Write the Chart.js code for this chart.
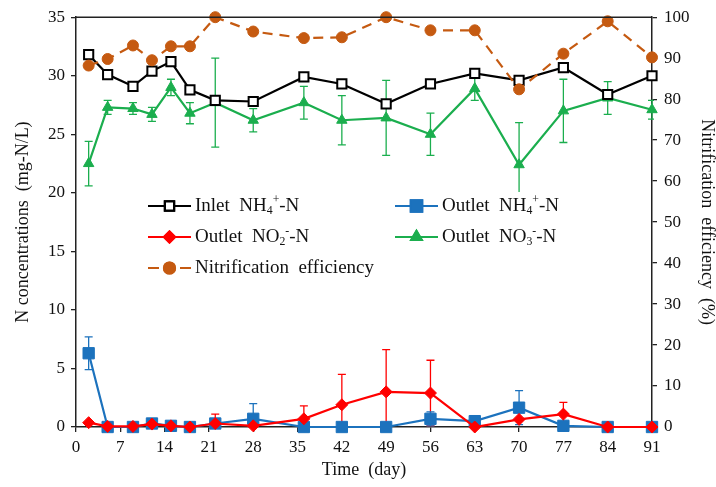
<!DOCTYPE html>
<html>
<head>
<meta charset="utf-8">
<script src="https://cdn.jsdelivr.net/npm/chart.js@4.4.0/dist/chart.umd.min.js"></script>
<style>
  html, body { margin: 0; padding: 0; background: #fff; }
  #wrap { width: 716px; height: 487px; }
</style>
</head>
<body>
<div id="wrap"><canvas id="chart" width="716" height="487"></canvas></div>
<script>
// ===== DATA =====
const days = [2, 5, 9, 12, 15, 18, 22, 28, 36, 42, 49, 56, 63, 70, 77, 84, 91];
const inletNH4 = [31.8, 30.1, 29.1, 30.4, 31.2, 28.8, 27.9, 27.8, 29.9, 29.3, 27.6, 29.3, 30.2, 29.6, 30.7, 28.4, 30.0];
const outletNH4 = [6.3, 0, 0, 0.3, 0.1, 0, 0.3, 0.7, 0, 0, 0, 0.7, 0.5, 1.65, 0.1, 0, 0];
const outletNH4Err = [1.4, 0, 0, 0, 0, 0, 0, 1.3, 0, 0, 0, 0.6, 0, 1.45, 0, 0, 0];
const outletNO2 = [0.37, 0.05, 0.05, 0.25, 0.1, 0, 0.3, 0.1, 0.7, 1.9, 3.0, 2.9, 0, 0.65, 1.1, 0, 0];
const outletNO2Err = [0, 0, 0, 0, 0, 0, 0.8, 0, 1.1, 2.6, 3.6, 2.8, 0, 0, 1.0, 0, 0];
const outletNO3 = [22.5, 27.3, 27.2, 26.7, 29.0, 26.8, 27.7, 26.2, 27.7, 26.2, 26.4, 25.0, 28.9, 22.4, 27.0, 28.1, 27.1];
const outletNO3Err = [1.9, 0.6, 0.5, 0.6, 0.7, 0.9, 3.8, 1.0, 1.4, 2.1, 3.2, 1.8, 1.0, 3.6, 2.7, 1.4, 0.8];
const efficiency = [88.2, 89.8, 93.1, 89.5, 92.9, 92.9, 100, 96.5, 94.9, 95.1, 100, 96.8, 96.8, 82.4, 91.1, 99.0, 90.2];

const xTicks = { min: 0, max: 91, step: 7 };
const yTicks = { min: 0, max: 35, step: 5 };
const y1Ticks = { min: 0, max: 100, step: 10 };

const FONT = "'Liberation Serif', 'Times New Roman', serif";
const C_BLACK = '#000000', C_BLUE = '#1C72BD', C_RED = '#FF0000', C_GREEN = '#1BAE4E', C_ORANGE = '#C55A11';

const pts = vals => days.map((d, i) => ({ x: d, y: vals[i] }));

// error bars, drawn under the lines
const errorBars = {
    id: 'errorBars',
    beforeDatasetsDraw(chart) {
        const { ctx, chartArea } = chart;
        ctx.save();
        ctx.beginPath();
        ctx.rect(chartArea.left, chartArea.top - 2, chartArea.right - chartArea.left + 2, chartArea.bottom - chartArea.top + 2);
        ctx.clip();
        chart.data.datasets.forEach(ds => {
            if (!ds.errors) return;
            const ys = chart.scales[ds.yAxisID || 'y'];
            const xs = chart.scales.x;
            ctx.strokeStyle = ds.borderColor;
            ctx.lineWidth = 1.3;
            ds.data.forEach((p, i) => {
                const e = ds.errors[i];
                if (!e) return;
                const x = xs.getPixelForValue(p.x);
                const hi = p.y + e, lo = p.y - e;
                const yh = ys.getPixelForValue(hi);
                const yl = ys.getPixelForValue(Math.max(lo, ys.min));
                ctx.beginPath();
                ctx.moveTo(x, yh); ctx.lineTo(x, yl);
                ctx.moveTo(x - 4, yh); ctx.lineTo(x + 4, yh);
                if (lo >= ys.min) { ctx.moveTo(x - 4, yl); ctx.lineTo(x + 4, yl); }
                ctx.stroke();
            });
        });
        ctx.restore();
    }
};

// top frame line
const topFrame = {
    id: 'topFrame',
    afterDraw(chart) {
        const { ctx, chartArea } = chart;
        ctx.save();
        ctx.strokeStyle = '#222';
        ctx.lineWidth = 1.5;
        ctx.beginPath();
        ctx.moveTo(chartArea.left, chartArea.top);
        ctx.lineTo(chartArea.right, chartArea.top);
        ctx.stroke();
        ctx.restore();
    }
};

function drawRich(ctx, x, y, parts, size) {
    parts.forEach(([t, kind]) => {
        const s = kind ? size * 0.62 : size;
        const dy = kind === 'sub' ? size * 0.28 : kind === 'sup' ? -size * 0.32 : 0;
        ctx.font = s + 'px ' + FONT;
        ctx.fillText(t, x, y + dy);
        x += ctx.measureText(t).width;
    });
}

const legendItems = [
    { x: 148, y: 206, color: C_BLACK, style: 'rect', r: 6.5, fill: '#fff', parts: [['Inlet  NH'], ['4', 'sub'], ['+', 'sup'], ['-N']] },
    { x: 395, y: 206, color: C_BLUE, style: 'rect', r: 8, fill: C_BLUE, parts: [['Outlet  NH'], ['4', 'sub'], ['+', 'sup'], ['-N']] },
    { x: 148, y: 237, color: C_RED, style: 'rectRot', r: 5.5, fill: C_RED, parts: [['Outlet  NO'], ['2', 'sub'], ['-', 'sup'], ['-N']] },
    { x: 395, y: 237, color: C_GREEN, style: 'triangle', r: 6, fill: C_GREEN, parts: [['Outlet  NO'], ['3', 'sub'], ['-', 'sup'], ['-N']] },
    { x: 148, y: 268, color: C_ORANGE, style: 'circle', r: 5.5, fill: C_ORANGE, dash: true, parts: [['Nitrification  efficiency']] }
];

const legendBox = {
    id: 'legendBox',
    afterDraw(chart) {
        const { ctx } = chart;
        ctx.save();
        ctx.fillStyle = '#fff';
        ctx.fillRect(142, 192, 428, 92);
        legendItems.forEach(it => {
            ctx.strokeStyle = it.color;
            ctx.lineWidth = 2.2;
            ctx.beginPath();
            if (it.dash) {
                ctx.moveTo(it.x, it.y); ctx.lineTo(it.x + 11, it.y);
                ctx.moveTo(it.x + 32, it.y); ctx.lineTo(it.x + 43, it.y);
            } else {
                ctx.moveTo(it.x, it.y); ctx.lineTo(it.x + 43, it.y);
            }
            ctx.stroke();
            ctx.fillStyle = it.fill;
            Chart.helpers.drawPoint(ctx, { pointStyle: it.style, radius: it.r, rotation: 0, borderWidth: 2 }, it.x + 21.5, it.y);
            ctx.fill();
            ctx.stroke();
            ctx.fillStyle = '#111';
            ctx.textBaseline = 'middle';
            ctx.textAlign = 'left';
            drawRich(ctx, it.x + 47, it.y, it.parts, 19);
        });
        ctx.restore();
    }
};

function initChart() {
    const ctx = document.getElementById('chart');
    const axisFont = { family: FONT, size: 17 };
    const titleFont = { family: FONT, size: 18, lineHeight: 1 };
    const grid = { drawOnChartArea: false, drawTicks: true, tickLength: 5, color: '#222', lineWidth: 1.3 };
    const border = { color: '#222', width: 1.5 };

    new Chart(ctx, {
        type: 'line',
        data: {
            datasets: [
                { label: 'Nitrification efficiency', data: pts(efficiency), yAxisID: 'y1', borderColor: C_ORANGE, backgroundColor: C_ORANGE,
                  borderDash: [10, 7], borderWidth: 2.2, pointStyle: 'circle', pointRadius: 5.5, pointBorderWidth: 1, order: 0, clip: false },
                { label: 'Inlet NH4+-N', data: pts(inletNH4), yAxisID: 'y', borderColor: C_BLACK, backgroundColor: '#fff',
                  borderWidth: 2.2, pointStyle: 'rect', pointRadius: 6.5, pointBorderWidth: 2, order: 1, clip: false },
                { label: 'Outlet NO3--N', data: pts(outletNO3), errors: outletNO3Err, yAxisID: 'y', borderColor: C_GREEN, backgroundColor: C_GREEN,
                  borderWidth: 2.2, pointStyle: 'triangle', pointRadius: 6, pointBorderWidth: 1, order: 2, clip: false },
                { label: 'Outlet NO2--N', data: pts(outletNO2), errors: outletNO2Err, yAxisID: 'y', borderColor: C_RED, backgroundColor: C_RED,
                  borderWidth: 2.2, pointStyle: 'rectRot', pointRadius: 6, pointBorderWidth: 1, order: 3, clip: false },
                { label: 'Outlet NH4+-N', data: pts(outletNH4), errors: outletNH4Err, yAxisID: 'y', borderColor: C_BLUE, backgroundColor: C_BLUE,
                  borderWidth: 2.2, pointStyle: 'rect', pointRadius: 8, pointBorderWidth: 1, order: 4, clip: false }
            ]
        },
        options: {
            responsive: false, animation: false,
            layout: { padding: { top: 14, left: 0, right: 0, bottom: 0 } },
            plugins: { legend: { display: false }, tooltip: { enabled: false } },
            scales: {
                x: {
                    type: 'linear', min: xTicks.min, max: xTicks.max,
                    ticks: { stepSize: xTicks.step, font: axisFont, color: '#111', padding: 5 },
                    grid, border,
                    title: { display: true, text: 'Time  (day)', font: titleFont, color: '#111', padding: { top: 0, bottom: 8 } },
                    afterFit: s => { s.height = 60; }
                },
                y: {
                    position: 'left', min: yTicks.min, max: yTicks.max,
                    ticks: { stepSize: yTicks.step, font: axisFont, color: '#111', padding: 6 },
                    grid, border,
                    title: { display: true, text: 'N concentrations  (mg-N/L)', font: titleFont, color: '#111', padding: { top: 14, bottom: 0 } },
                    afterFit: s => { s.width = 76; }
                },
                y1: {
                    position: 'right', min: y1Ticks.min, max: y1Ticks.max,
                    ticks: { stepSize: y1Ticks.step, font: axisFont, color: '#111', padding: 7 },
                    grid, border,
                    title: { display: true, text: 'Nitrification  efficiency  (%)', font: titleFont, color: '#111', padding: { top: 0, bottom: 0 } },
                    afterFit: s => { s.width = 64; }
                }
            }
        },
        plugins: [errorBars, topFrame, legendBox]
    });
}

initChart();
</script>
</body>
</html>
